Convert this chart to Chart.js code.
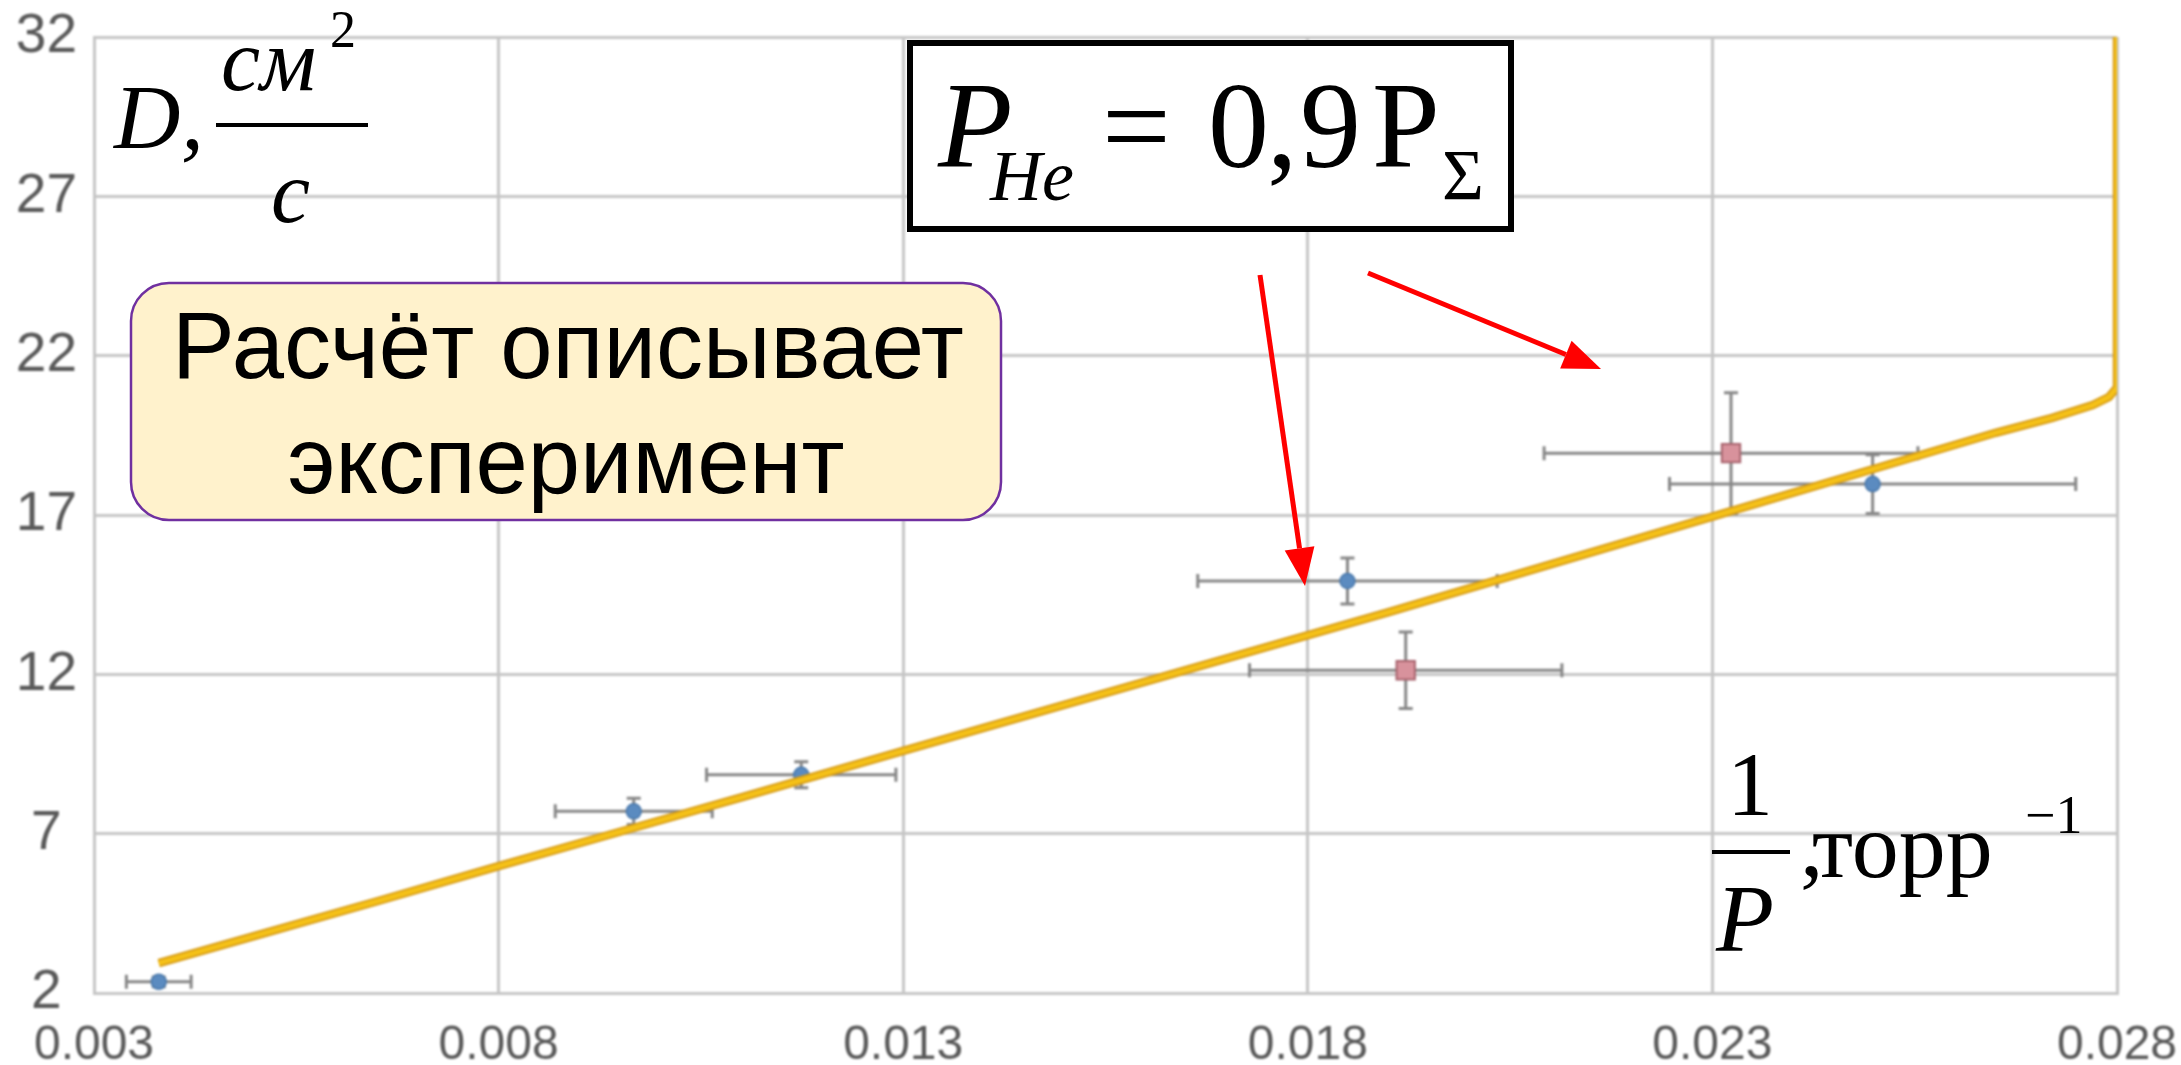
<!DOCTYPE html>
<html>
<head>
<meta charset="utf-8">
<script src="https://cdn.jsdelivr.net/npm/chart.js@4.4.1/dist/chart.umd.min.js"></script>
<style>
  html, body { margin: 0; padding: 0; background: #ffffff; overflow: hidden; }
  #wrap { width: 2181px; height: 1065px; position: relative; }
  canvas { display: block; position: absolute; left: 0; top: 0; }
  #c { filter: blur(0.9px); }
</style>
</head>
<body>
<div id="wrap">
  <canvas id="c" width="2181" height="1065"></canvas>
  <canvas id="notes" width="2181" height="1065"></canvas>
</div>
<script>
// Axis ticks
const xTicks = [0.003, 0.008, 0.013, 0.018, 0.023, 0.028];
const yTicks = [2, 7, 12, 17, 22, 27, 32];

// Experiment, series A (blue circles): 1/P, D and their errors
const seriesAx    = [0.0038, 0.00967, 0.01174, 0.01849, 0.02498];
const seriesAy    = [2.35, 7.70, 8.85, 14.93, 17.97];
const seriesAxErr = [0.0004, 0.00097, 0.00117, 0.00185, 0.00251];
const seriesAyErr = [0.15, 0.41, 0.41, 0.72, 0.92];

// Experiment, series B (pink squares)
const seriesBx    = [0.01921, 0.02323];
const seriesBy    = [12.13, 18.94];
const seriesBxErr = [0.00193, 0.00231];
const seriesByErr = [1.2, 1.9];

// Calculated curve D(1/P)
const calcX = [0.0038, 0.005, 0.0065, 0.008, 0.0095, 0.011, 0.013, 0.015, 0.017, 0.019, 0.021, 0.023, 0.025, 0.0265, 0.0272, 0.0277, 0.0279, 0.028, 0.028];
const calcY = [2.94, 3.80, 4.88, 5.98, 7.06, 8.14, 9.60, 11.05, 12.50, 13.95, 15.45, 16.95, 18.45, 19.58, 20.05, 20.45, 20.70, 21.0, 32.0];

const pts = (xs, ys) => xs.map((x, i) => ({ x: x, y: ys[i] }));

// Error bars drawn under the markers, positioned through the chart scales
const errorBars = {
  id: 'errorBars',
  beforeDatasetsDraw(chart) {
    const { ctx, scales: { x, y } } = chart;
    const cap = 7;
    const groups = [
      [seriesAx, seriesAy, seriesAxErr, seriesAyErr],
      [seriesBx, seriesBy, seriesBxErr, seriesByErr]
    ];
    ctx.save();
    ctx.strokeStyle = '#878787';
    ctx.lineWidth = 3;
    ctx.lineCap = 'butt';
    for (const [xs, ys, xe, ye] of groups) {
      xs.forEach((xv, i) => {
        const px = x.getPixelForValue(xv);
        const py = y.getPixelForValue(ys[i]);
        const x0 = x.getPixelForValue(xv - xe[i]);
        const x1 = x.getPixelForValue(xv + xe[i]);
        const y0 = y.getPixelForValue(ys[i] - ye[i]);
        const y1 = y.getPixelForValue(ys[i] + ye[i]);
        ctx.beginPath();
        ctx.moveTo(x0, py); ctx.lineTo(x1, py);
        ctx.moveTo(x0, py - cap); ctx.lineTo(x0, py + cap);
        ctx.moveTo(x1, py - cap); ctx.lineTo(x1, py + cap);
        ctx.moveTo(px, y0); ctx.lineTo(px, y1);
        ctx.moveTo(px - cap, y0); ctx.lineTo(px + cap, y0);
        ctx.moveTo(px - cap, y1); ctx.lineTo(px + cap, y1);
        ctx.stroke();
      });
    }
    ctx.restore();
  }
};

function arrow(ctx, x0, y0, x1, y1) {
  const ang = Math.atan2(y1 - y0, x1 - x0);
  const len = 38, half = 15;
  const bx = x1 - Math.cos(ang) * len, by = y1 - Math.sin(ang) * len;
  ctx.beginPath();
  ctx.moveTo(x0, y0);
  ctx.lineTo(bx, by);
  ctx.stroke();
  ctx.beginPath();
  ctx.moveTo(x1, y1);
  ctx.lineTo(bx + Math.sin(ang) * half, by - Math.cos(ang) * half);
  ctx.lineTo(bx - Math.sin(ang) * half, by + Math.cos(ang) * half);
  ctx.closePath();
  ctx.fill();
}

// Axis titles, caption boxes and pointers, drawn crisp on the overlay canvas
const annotations = {
  id: 'annotations',
  afterDraw(chart) {
    const ctx = document.getElementById('notes').getContext('2d');
    ctx.clearRect(0, 0, 2181, 1065);
    const serif = '"Liberation Serif", "Times New Roman", serif';
    const sans = '"Liberation Sans", Arial, sans-serif';
    ctx.save();
    ctx.fillStyle = '#000';
    ctx.strokeStyle = '#000';
    ctx.textBaseline = 'alphabetic';
    ctx.textAlign = 'left';

    // Y title: D, cm^2/s
    ctx.font = 'italic 92px ' + serif;
    ctx.fillText('D', 114, 148);
    ctx.fillText(',', 181, 148);
    ctx.font = 'italic 88px ' + serif;
    ctx.fillText('см', 221, 90);
    ctx.fillText('с', 271, 222);
    ctx.font = '52px ' + serif;
    ctx.fillText('2', 330, 47);
    ctx.lineWidth = 4;
    ctx.beginPath(); ctx.moveTo(216, 125); ctx.lineTo(368, 125); ctx.stroke();

    // X title: 1/P, torr^-1
    ctx.font = '92px ' + serif;
    ctx.fillText('1', 1727, 815);
    ctx.beginPath(); ctx.moveTo(1712, 852); ctx.lineTo(1790, 852); ctx.stroke();
    ctx.font = 'italic 95px ' + serif;
    ctx.fillText('P', 1716, 951);
    ctx.font = '94px ' + serif;
    ctx.fillText(',', 1800, 876);
    ctx.fillText('торр', 1812, 877);
    ctx.font = '54px ' + serif;
    ctx.fillText('\u22121', 2025, 833);

    // Formula box
    ctx.fillStyle = '#ffffff';
    ctx.fillRect(907, 40, 607, 192);
    ctx.lineWidth = 6;
    ctx.strokeRect(910, 43, 601, 186);
    ctx.fillStyle = '#000';
    ctx.font = 'italic 122px ' + serif;
    ctx.fillText('P', 938, 167);
    ctx.font = 'italic 72px ' + serif;
    ctx.fillText('He', 990, 200);
    ctx.font = '122px ' + serif;
    ctx.fillText('=', 1102, 167);
    ctx.fillText('0', 1208, 167);
    ctx.fillText(',', 1267, 167);
    ctx.fillText('9', 1300, 167);
    ctx.fillText('P', 1372, 167);
    ctx.font = '72px ' + serif;
    ctx.fillText('\u03A3', 1442, 199);

    // Conclusion box
    const bx = 131, by = 283, bw = 870, bh = 237, r = 38;
    ctx.beginPath();
    ctx.moveTo(bx + r, by);
    ctx.arcTo(bx + bw, by, bx + bw, by + bh, r);
    ctx.arcTo(bx + bw, by + bh, bx, by + bh, r);
    ctx.arcTo(bx, by + bh, bx, by, r);
    ctx.arcTo(bx, by, bx + bw, by, r);
    ctx.closePath();
    ctx.fillStyle = '#FFF2CC';
    ctx.fill();
    ctx.lineWidth = 2.5;
    ctx.strokeStyle = '#7030A0';
    ctx.stroke();
    ctx.fillStyle = '#000';
    ctx.font = '94px ' + sans;
    ctx.textAlign = 'center';
    ctx.fillText('Расчёт описывает', 568, 378);
    ctx.fillText('эксперимент', 566, 493);

    // Red pointers
    ctx.strokeStyle = '#FF0000';
    ctx.fillStyle = '#FF0000';
    ctx.lineWidth = 5;
    arrow(ctx, 1260, 275, 1305, 586);
    arrow(ctx, 1368, 273, 1601, 369);
    ctx.restore();
  }
};

const tickFontX = { family: '"Liberation Sans", Arial, sans-serif', size: 48 };
const tickFontY = { family: '"Liberation Sans", Arial, sans-serif', size: 55 };

new Chart(document.getElementById('c'), {
  type: 'scatter',
  data: {
    datasets: [
      { label: 'Расчёт', data: pts(calcX, calcY), showLine: true, tension: 0,
        borderColor: '#F5C118', borderWidth: 5, pointRadius: 0, order: 0 },
      { label: 'Расчёт (контур)', data: pts(calcX, calcY), showLine: true, tension: 0,
        borderColor: '#D69B16', borderWidth: 8.5, pointRadius: 0, order: 1 },
      { label: 'Эксперимент 1', data: pts(seriesAx, seriesAy), pointStyle: 'circle', pointRadius: 7.5,
        backgroundColor: '#5B8BC0', borderColor: '#4A78AA', borderWidth: 1.5, order: 2 },
      { label: 'Эксперимент 2', data: pts(seriesBx, seriesBy), pointStyle: 'rect', pointRadius: 13,
        backgroundColor: '#D8929C', borderColor: '#A8646E', borderWidth: 2, order: 2 }
    ]
  },
  options: {
    responsive: false,
    animation: false,
    devicePixelRatio: 1,
    layout: { padding: { top: 37, right: 64, left: 0, bottom: 0 } },
    plugins: { legend: { display: false }, tooltip: { enabled: false } },
    scales: {
      x: {
        type: 'linear', min: 0.003, max: 0.028,
        afterBuildTicks: s => { s.ticks = xTicks.map(v => ({ value: v })); },
        afterFit: s => { s.height = 72; s.paddingLeft = 0; s.paddingRight = 0; },
        ticks: { callback: v => v.toFixed(3), font: tickFontX, color: '#595959', padding: 24, maxRotation: 0, autoSkip: false },
        grid: { color: '#C6C6C6', lineWidth: 3, drawTicks: false },
        border: { color: '#C6C6C6', width: 3 }
      },
      y: {
        type: 'linear', min: 2, max: 32,
        afterBuildTicks: s => { s.ticks = yTicks.map(v => ({ value: v })); },
        afterFit: s => { s.width = 94; s.paddingTop = 0; s.paddingBottom = 0; },
        ticks: { callback: v => String(v), font: tickFontY, color: '#595959', padding: 17, crossAlign: 'center', autoSkip: false },
        grid: { color: '#C6C6C6', lineWidth: 3, drawTicks: false },
        border: { color: '#C6C6C6', width: 3 }
      }
    }
  },
  plugins: [errorBars, annotations]
});
</script>
</body>
</html>
